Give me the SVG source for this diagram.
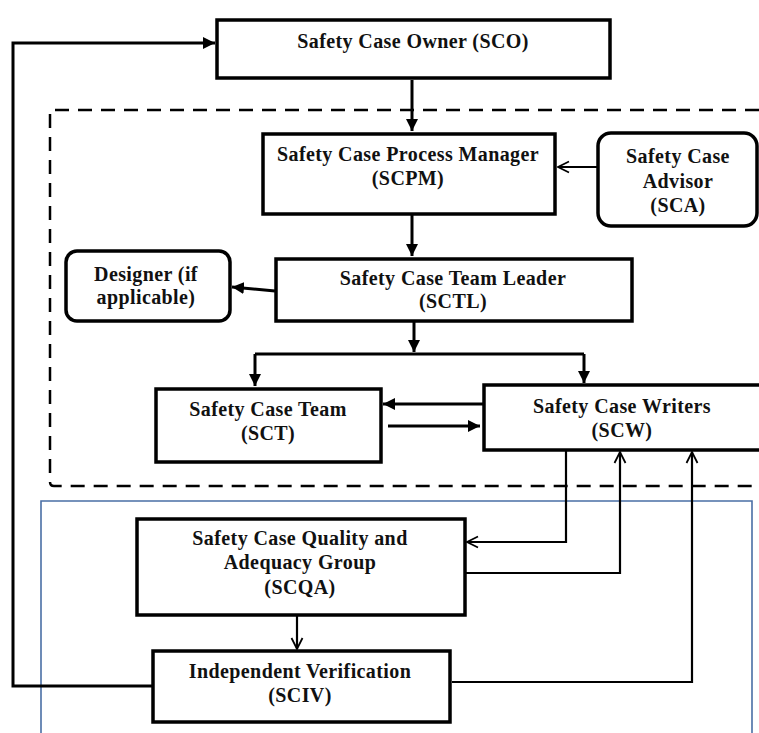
<svg xmlns="http://www.w3.org/2000/svg" width="759" height="733" viewBox="0 0 759 733">
<defs>
<marker id="fa" viewBox="0 0 10 10" refX="10" refY="5" markerWidth="4" markerHeight="4" orient="auto" markerUnits="strokeWidth"><path d="M0,0 L10,5 L0,10 z" fill="#000"/></marker>
<marker id="oa" viewBox="0 0 12 12" refX="11" refY="6" markerWidth="6" markerHeight="6" orient="auto" markerUnits="strokeWidth"><path d="M1,1 L11,6 L1,11" fill="none" stroke="#000" stroke-width="1.6"/></marker>
</defs>
<style>
.box{fill:#fff;stroke:#000;stroke-width:3.5}
.t{font-family:"Liberation Serif","Times New Roman",serif;font-weight:bold;font-size:20px;letter-spacing:0.4px;fill:#111;text-anchor:middle}
.c{fill:none;stroke:#000;stroke-width:3}
.cf{fill:none;stroke:#000;stroke-width:3;marker-end:url(#fa)}
.co{fill:none;stroke:#000;stroke-width:2.2;marker-end:url(#oa)}
</style>
<rect width="759" height="733" fill="#fff"/>
<g id="regions">
<path d="M759,110 H50 V482 Q50,486 54,486 H759" fill="none" stroke="#000" stroke-width="2.5" stroke-dasharray="14,9"/>
<path d="M41,733 V501 H752 V733" fill="none" stroke="#4a6fa5" stroke-width="1.6"/>
</g>
<g id="connectors">
<path class="cf" d="M412,80 V131"/>
<path class="co" d="M597,167 H558"/>
<path class="cf" d="M412,215 V256"/>
<path class="cf" d="M275,291 L232,287"/>
<path class="cf" d="M414,321 V352"/>
<path class="c" d="M255,354 H584"/>
<path class="cf" d="M255,354 V386"/>
<path class="cf" d="M584,354 V383"/>
<path class="cf" d="M483,404 H383"/>
<path class="cf" d="M388,426 H480"/>
<path class="co" d="M566,450 V542 H467"/>
<path class="co" d="M465,573 H620 V452"/>
<path class="co" d="M452,682 H692 V452"/>
<path class="co" d="M297,615 V649"/>
<path class="cf" d="M153,686 H13 V43 H215"/>
</g>
<g id="sco"><rect class="box" x="217" y="20" width="393" height="58"/><text class="t" x="413" y="48">Safety Case Owner (SCO)</text></g>
<g id="scpm"><rect class="box" x="263" y="134" width="292" height="80"/><text class="t" x="408" y="161">Safety Case Process Manager</text><text class="t" x="408" y="185">(SCPM)</text></g>
<g id="sca"><rect class="box" x="598" y="133" width="159" height="93" rx="13"/><text class="t" x="678" y="163">Safety Case</text><text class="t" x="678" y="188">Advisor</text><text class="t" x="678" y="212">(SCA)</text></g>
<g id="designer"><rect class="box" x="66" y="251" width="164" height="70" rx="11"/><text class="t" x="146" y="281">Designer (if</text><text class="t" x="146" y="304">applicable)</text></g>
<g id="sctl"><rect class="box" x="276" y="259" width="356" height="62"/><text class="t" x="453" y="285">Safety Case Team Leader</text><text class="t" x="453" y="308">(SCTL)</text></g>
<g id="sct"><rect class="box" x="156" y="389" width="225" height="73"/><text class="t" x="268" y="416">Safety Case Team</text><text class="t" x="268" y="440">(SCT)</text></g>
<g id="scw"><rect class="box" x="484" y="385" width="285" height="65"/><text class="t" x="622" y="413">Safety Case Writers</text><text class="t" x="622" y="437">(SCW)</text></g>
<g id="scqa"><rect class="box" x="137" y="519" width="328" height="96"/><text class="t" x="300" y="545">Safety Case Quality and</text><text class="t" x="300" y="569">Adequacy Group</text><text class="t" x="300" y="594">(SCQA)</text></g>
<g id="sciv"><rect class="box" x="153" y="651" width="297" height="71"/><text class="t" x="300" y="678">Independent Verification</text><text class="t" x="300" y="702">(SCIV)</text></g>
</svg>
